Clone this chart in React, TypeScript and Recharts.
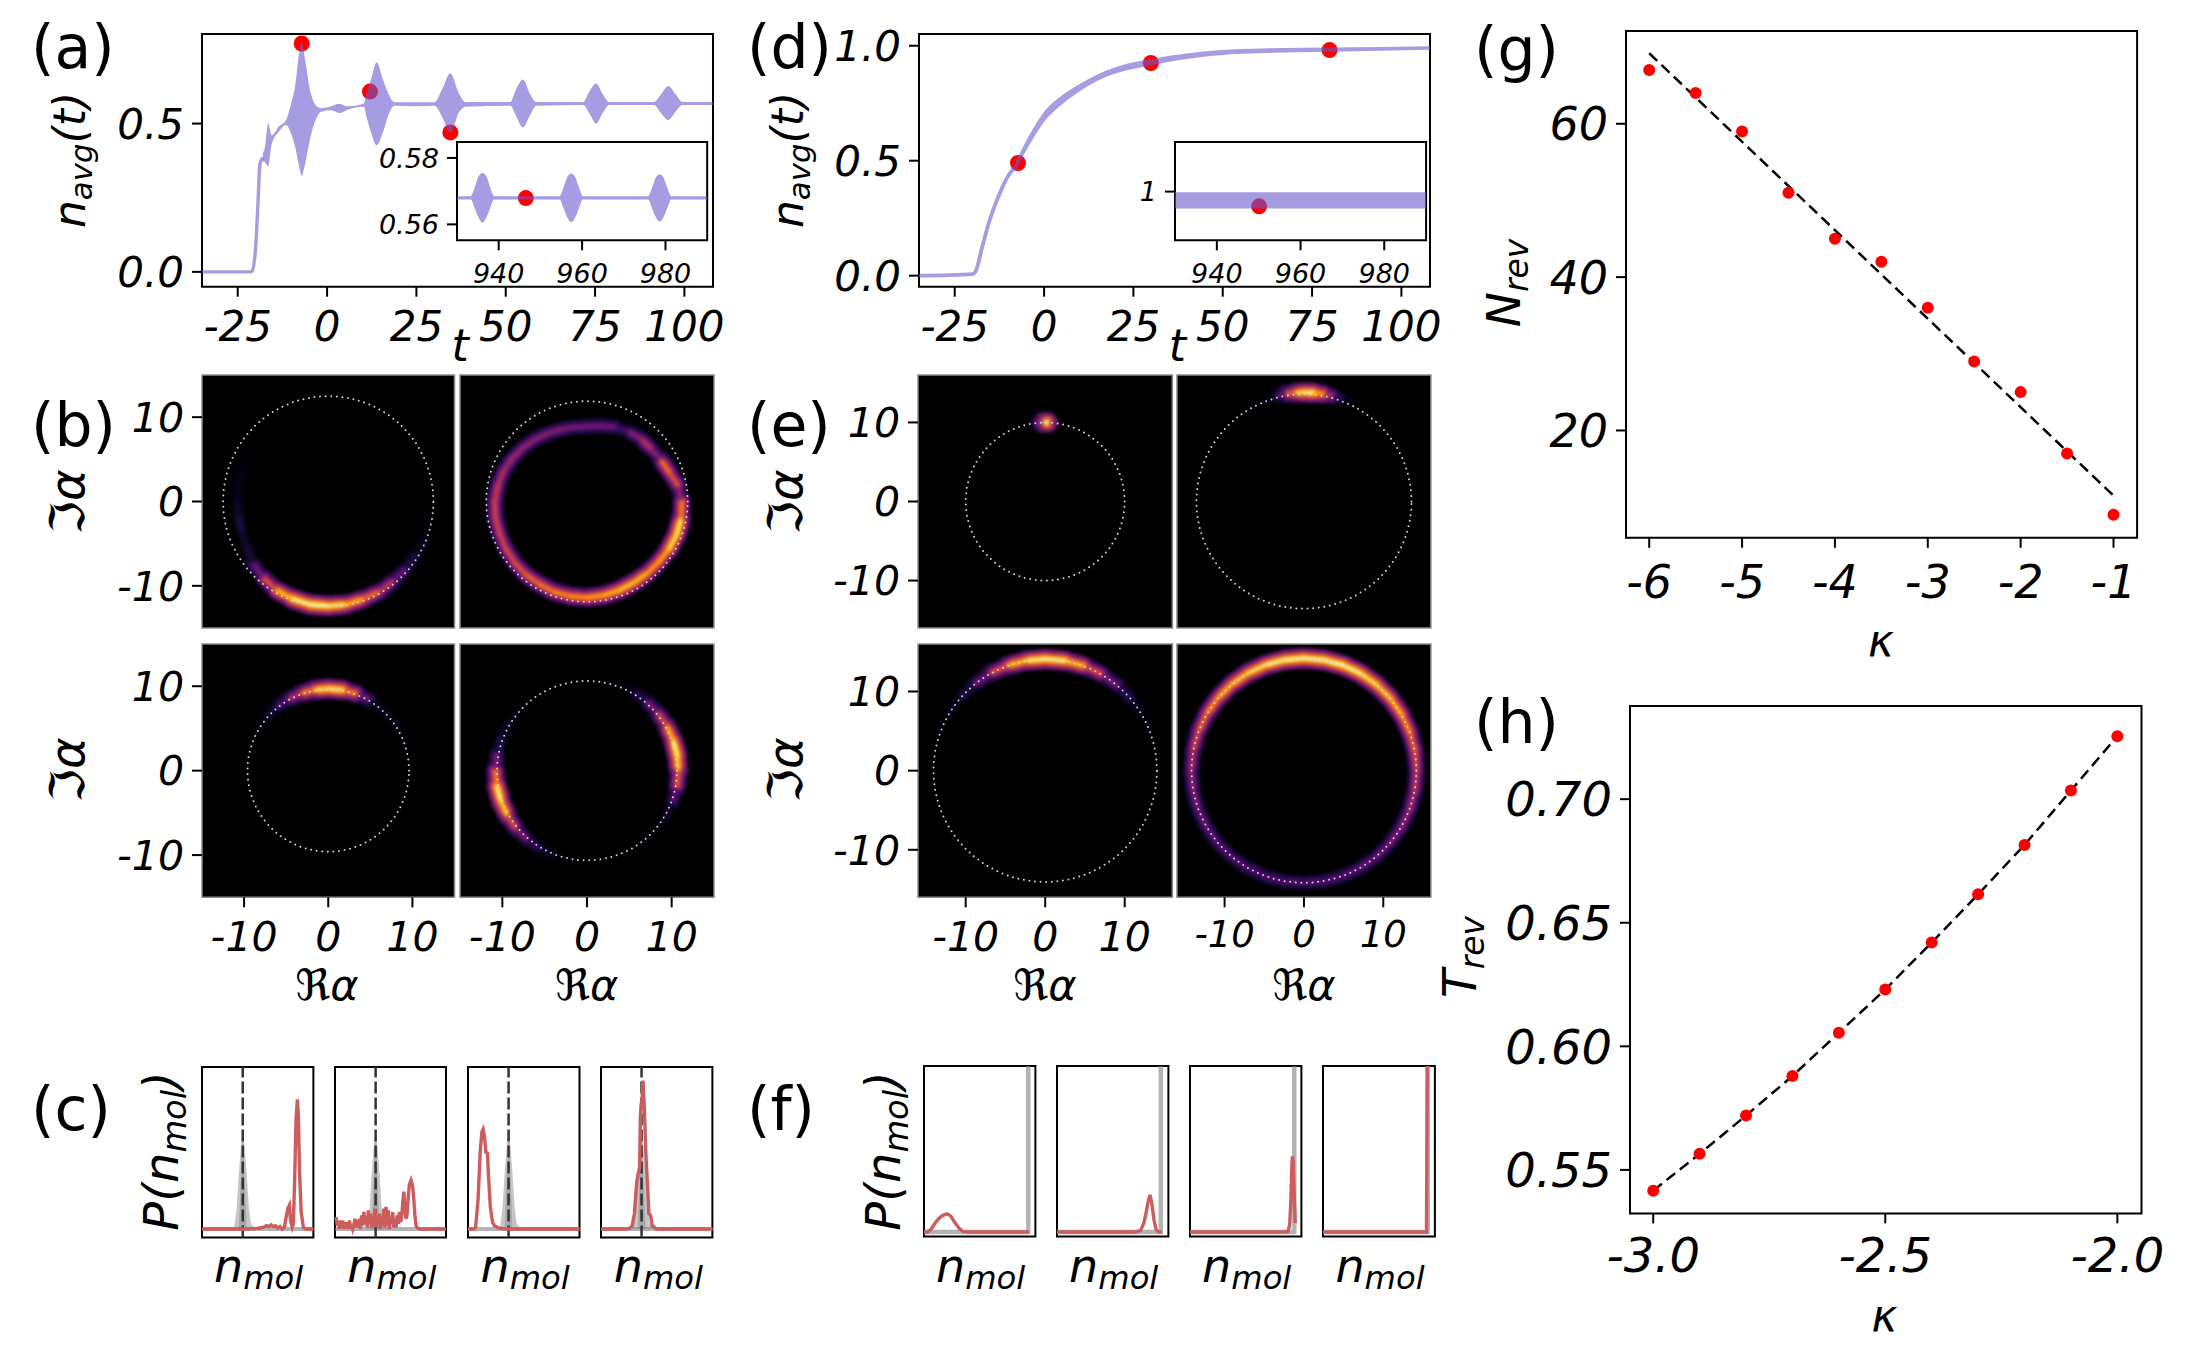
import React from "react";
import { ComposedChart, Area, Line, Scatter, XAxis, YAxis, ReferenceArea } from "recharts";

const FONT = '"DejaVu Sans", sans-serif';
const BAND = "#6a5acd";
const RED_CURVE = "#cd5c5c";

// (a) mean photon number
const aRiseT = [-35, -22, -21, -20, -19.4, -18.8, -18];
const aRiseN = [0, 0, 0.002, 0.08, 0.215, 0.362, 0.385];
const aTimes = [-18, -17.4, -16.5, -15.5, -13.5, -11.5, -10.2, -8.9, -7.9, -7.1, -6.2, -4.9, -3.6, -2.5, -1.6, 1.1, 3.4, 5.7, 10.3, 11, 12.3, 13.9, 15.6, 17.2, 18.9, 24.2, 30.1, 32.1, 34.5, 37, 38.7, 51.3, 52.8, 54.8, 56.8, 58.5, 71.7, 73.4, 75.3, 77.1, 79, 91.5, 93.5, 95.5, 97.5, 99.5, 108];
const aLow = [0.375, 0.37, 0.355, 0.43, 0.472, 0.495, 0.47, 0.42, 0.36, 0.324, 0.36, 0.44, 0.5, 0.53, 0.54, 0.545, 0.536, 0.547, 0.557, 0.525, 0.47, 0.427, 0.47, 0.53, 0.56, 0.558, 0.56, 0.525, 0.47, 0.54, 0.557, 0.56, 0.528, 0.487, 0.528, 0.56, 0.563, 0.535, 0.5, 0.535, 0.563, 0.563, 0.535, 0.512, 0.54, 0.563, 0.563];
const aHigh = [0.4, 0.42, 0.5, 0.46, 0.49, 0.512, 0.56, 0.63, 0.73, 0.776, 0.72, 0.62, 0.57, 0.555, 0.552, 0.558, 0.567, 0.558, 0.568, 0.6, 0.65, 0.707, 0.65, 0.6, 0.572, 0.572, 0.572, 0.613, 0.67, 0.6, 0.573, 0.573, 0.613, 0.649, 0.6, 0.573, 0.573, 0.608, 0.635, 0.6, 0.573, 0.573, 0.6, 0.627, 0.6, 0.573, 0.573];
const aDotT = [-7.1, 12, 34.5];
const aDotN = [0.77, 0.608, 0.47];

const aInsetTimes = [930, 933.3, 934.3, 935.1, 936.1, 937.1, 937.9, 938.9, 954.6, 955.6, 956.4, 957.4, 958.4, 959.2, 960.2, 975.8, 976.8, 977.6, 978.6, 979.6, 980.4, 981.4, 990];
const aInsetLow = [0.5675, 0.5675, 0.5647, 0.5622, 0.5605, 0.5622, 0.5647, 0.5675, 0.5675, 0.5647, 0.5622, 0.5606, 0.5622, 0.5647, 0.5675, 0.5675, 0.5648, 0.5624, 0.5608, 0.5624, 0.5648, 0.5675, 0.5675];
const aInsetHigh = [0.5685, 0.5685, 0.5713, 0.5743, 0.5755, 0.5743, 0.5713, 0.5685, 0.5685, 0.5713, 0.5741, 0.5753, 0.5741, 0.5713, 0.5685, 0.5685, 0.5711, 0.5739, 0.5751, 0.5739, 0.5711, 0.5685, 0.5685];
const aInsetDotT = [946.5];
const aInsetDotN = [0.5679];

// (d) mean photon number
const dRiseT = [-35, -20, -19.2, -17.4, -15.5, -12.8, -10.2, -8];
const dRiseN = [0, 0.007, 0.017, 0.119, 0.228, 0.343, 0.43, 0.475];
const dTimes = [-8, -3.6, 0.4, 4.4, 9.6, 15, 20.2, 29.9, 38.7, 49.3, 61.2, 79.9, 108];
const dLow = [0.455, 0.582, 0.677, 0.737, 0.798, 0.848, 0.88, 0.914, 0.94, 0.959, 0.968, 0.974, 0.982];
const dHigh = [0.495, 0.626, 0.721, 0.777, 0.83, 0.876, 0.908, 0.942, 0.964, 0.981, 0.988, 0.992, 0.998];
const dDotT = [-7.3, 29.9, 79.9];
const dDotN = [0.49, 0.925, 0.981];
const dInsetTimes = [930, 990];
const dInsetLow = [0.983, 0.983];
const dInsetHigh = [0.9993, 0.9993];
const dInsetDotT = [950.1];
const dInsetDotN = [0.9853];

// (b) and (e) Husimi rings, angle in degrees, glow from 0 to 1
const fullTurn = [0, 10, 20, 30, 40, 50, 60, 70, 80, 90, 100, 110, 120, 130, 140, 150, 160, 170, 180, 190, 200, 210, 220, 230, 240, 250, 260, 270, 280, 290, 300, 310, 320, 330, 340, 350, 360];
const b1Glow = [0, 0, 0, 0, 0, 0, 0, 0, 0, 0, 0, 0, 0, 0, 0, 0, 0.02, 0.05, 0.03, 0.12, 0.12, 0.03, 0.2, 0.45, 0.75, 0.95, 1, 1, 0.9, 0.75, 0.6, 0.4, 0.2, 0.08, 0.02, 0, 0];
const b1Radius = [12, 12, 12, 12, 12, 12, 12, 12, 12, 12, 12, 12, 12, 12, 11, 11, 10.8, 10.8, 10.8, 10.8, 10.9, 11.1, 11.6, 11.9, 12.2, 12.3, 12.4, 12.4, 12.4, 12.3, 12.3, 12.2, 12.2, 12.2, 12.2, 12, 12];
const b2Glow = [0.55, 0.25, 0.95, 0.4, 0.35, 0.62, 0.1, 0.32, 0.33, 0.33, 0.33, 0.35, 0.37, 0.38, 0.4, 0.42, 0.45, 0.5, 0.55, 0.55, 0.55, 0.55, 0.58, 0.62, 0.68, 0.72, 0.75, 0.78, 0.8, 0.85, 0.88, 0.8, 0.75, 0.85, 1, 0.9, 0.55];
const b2Radius = [11.2, 10.9, 10.3, 10, 9.8, 9.8, 9.6, 9.4, 9.1, 8.9, 8.95, 9.1, 9.3, 9.6, 9.9, 10.2, 10.5, 10.7, 10.9, 11, 11, 11.1, 11.2, 11.3, 11.3, 11.4, 11.4, 11.4, 11.3, 11.2, 11.1, 11.1, 11.1, 11.2, 11.3, 11.3, 11.2];
const b3Glow = [0, 0, 0.01, 0.02, 0.05, 0.05, 0.1, 0.55, 0.9, 1, 0.85, 0.6, 0.35, 0.15, 0.05, 0, 0, 0, 0, 0, 0, 0, 0, 0, 0, 0, 0, 0, 0, 0, 0, 0, 0, 0, 0, 0, 0];
const b4Glow = [0.8, 1, 0.95, 0.7, 0.45, 0.25, 0.05, 0, 0, 0, 0, 0, 0, 0, 0.02, 0.05, 0.1, 0.2, 0.5, 0.95, 1, 0.75, 0.45, 0.25, 0.1, 0.03, 0, 0, 0, 0, 0, 0, 0.02, 0.05, 0.1, 0.45, 0.8];
const e1Turn = [86, 88, 90, 92, 94];
const e1Glow = [0, 0.95, 1, 0.95, 0];
const e2Turn = [65, 70, 75, 80, 85, 90, 95, 100, 105, 110, 115];
const e2Glow = [0, 0.05, 0.3, 0.65, 0.95, 1, 0.85, 0.45, 0.12, 0.02, 0];
const e3Glow = [0, 0, 0, 0.02, 0.1, 0.25, 0.45, 0.75, 0.95, 1, 0.95, 0.75, 0.45, 0.2, 0.08, 0.02, 0, 0, 0, 0, 0, 0, 0, 0, 0, 0, 0, 0, 0, 0, 0, 0, 0, 0, 0, 0, 0];
const e4Glow = [0.55, 0.62, 0.7, 0.8, 0.85, 0.9, 0.95, 1, 1, 1, 1, 0.95, 0.9, 0.85, 0.8, 0.7, 0.62, 0.5, 0.42, 0.37, 0.33, 0.3, 0.28, 0.26, 0.25, 0.25, 0.25, 0.25, 0.25, 0.26, 0.28, 0.3, 0.33, 0.38, 0.42, 0.48, 0.55];

// (c) and (f) distributions, both axes in percent of the panel
const grayX = [27, 29, 31, 33, 35, 36.5, 38, 40, 42, 44, 48];
const grayY = [5, 7, 17, 38, 55, 62, 55, 38, 17, 8, 5];
const grayInnerX = [33, 34.5, 36.5, 38.5, 40];
const grayInnerY = [5, 30, 62, 30, 5];
const c1X = [0, 25, 38, 45, 50, 55, 58, 60, 62, 64, 66, 68, 70, 72, 74, 75, 77, 78.5, 79.5, 81, 82, 83, 84.5, 85.6, 86.5, 87.5, 89, 91, 93, 100];
const c1Y = [5, 5, 5, 5.2, 5.5, 6, 7, 6.5, 7.5, 6.5, 7, 5.5, 6.5, 5, 6, 10, 17, 19, 10, 6, 8, 30, 70, 81, 72, 40, 15, 6, 5, 5];
const c2X = [1, 2, 3, 4, 5, 6, 7, 8, 9, 10, 11, 12, 13, 14, 15, 16, 17, 18, 19, 20, 21, 22, 23, 24, 25, 26, 27, 28, 29, 30, 31, 32, 33, 34, 35, 36, 37, 38, 39, 40, 41, 42, 43, 44, 45, 46, 47, 48, 49, 50, 51, 52, 53, 54, 55, 56, 57, 58, 59, 60, 61, 62, 63, 64, 65, 66, 67, 68.5, 70, 71, 72, 73, 74.5, 77, 100];
const c2Y = [12, 7, 10, 5, 10, 6, 10, 5, 9, 5, 9, 5, 10, 5, 8, 5, 7, 11, 6, 10, 6, 11, 5, 13, 7, 15, 8, 12, 6, 16, 8, 14, 6, 12, 7, 17, 6, 11, 8, 14, 5, 12, 7, 17, 6, 18, 7, 16, 5, 12, 8, 15, 6, 10, 6, 13, 8, 15, 9, 12, 20, 27, 16, 11, 14, 24, 31, 33.6, 30, 22, 13, 7, 5.5, 5, 5];
const c3X = [0, 5, 6.8, 9, 11, 12.5, 13.6, 15, 16, 17.4, 18.5, 20, 22, 23.7, 28, 35, 45, 100];
const c3Y = [5, 5, 6, 22, 51, 62, 63.5, 58, 50, 49.5, 35, 18, 9, 7, 5.5, 5, 5, 5];
const c4X = [0, 22, 26, 28, 30, 32, 33.5, 34.7, 35.3, 36, 37, 37.7, 38.6, 39.4, 40.2, 41.5, 43, 44.5, 46, 50, 100];
const c4Y = [5, 5, 5.5, 7, 14, 32, 38, 41, 70, 78, 82, 92, 80, 67, 50, 34, 14, 13, 7, 5, 5];
const f1X = [0, 3, 6, 10, 14, 17, 20.8, 24, 28, 32, 35, 40, 94.5];
const f1Y = [2.7, 2.7, 4, 8, 11, 12.5, 13.3, 12, 8, 4.5, 3, 2.7, 2.7];
const f2X = [0, 70, 75, 78, 80, 82, 83.5, 85, 87, 89, 90.5, 94];
const f2Y = [2.7, 2.7, 3.5, 8, 14, 21, 24.4, 20, 10, 4, 3, 2.7];
const f3X = [0, 86, 88, 89.5, 90.5, 91.5, 92, 92.5, 93.5, 94.5];
const f3Y = [2.7, 2.7, 3, 7, 20, 42, 47, 44, 25, 8];
const f4X = [0, 92.5, 93.2];
const f4Y = [2.7, 2.7, 100];

// (g) and (h)
const gKappa = [-6, -5.5, -5, -4.5, -4, -3.5, -3, -2.5, -2, -1.5, -1];
const gRevivals = [67, 64, 59, 51, 45, 42, 36, 29, 25, 17, 9];
const gFitKappa = [-6, -1];
const gFitRevivals = [69.2, 11.5];
const hKappa = [-3, -2.9, -2.8, -2.7, -2.6, -2.5, -2.4, -2.3, -2.2, -2.1, -2];
const hPeriod = [0.5416, 0.5565, 0.572, 0.588, 0.6055, 0.623, 0.642, 0.6615, 0.6815, 0.7035, 0.7255];

const rows = (xs: number[], ys: number[]) => xs.map((x, i) => ({ x, y: ys[i] }));
const bands = (xs: number[], lo: number[], hi: number[]) => xs.map((x, i) => ({ x, band: [lo[i], hi[i]] }));

const INFERNO = ["#000004", "#160b39", "#420a68", "#6a176e", "#932667", "#bc3754", "#dd513a", "#f37819", "#fca50a", "#f6d746", "#fcffa4"];
function inferno(v: number) {
  const p = Math.min(Math.max(v, 0), 1) * 10;
  const i = Math.min(Math.floor(p), 9);
  const t = p - i;
  const a = parseInt(INFERNO[i].slice(1), 16);
  const b = parseInt(INFERNO[i + 1].slice(1), 16);
  const mix = (s: number) => Math.round(((a >> s) & 255) * (1 - t) + ((b >> s) & 255) * t);
  return `rgb(${mix(16)},${mix(8)},${mix(0)})`;
}

const tickLabel = (size: number, dy: number, anchor: string, decimals: number) => (p: any) => (
  <text x={anchor === "end" ? p.x - 8 : p.x} y={p.y + dy} textAnchor={anchor} fontSize={size} fontStyle="italic" fontFamily={FONT} fill="#000">
    {Number(p.payload.value).toFixed(decimals)}
  </text>
);

const PAD = { l: 140, r: 60, t: 20, b: 75 };

function Plot({ box, xDomain, yDomain, xTicks, yTicks, xText, yText, fill, border = "#000", borderWidth = 2, data, children }: any) {
  const [x, y, w, h] = box;
  return (
    <div style={{ position: "absolute", left: x - PAD.l, top: y - PAD.t }}>
      <ComposedChart width={w + PAD.l + PAD.r} height={h + PAD.t + PAD.b} data={data} margin={{ top: PAD.t, right: PAD.r, left: 0, bottom: 0 }}>
        <XAxis
          dataKey="x"
          type="number"
          domain={xDomain}
          ticks={xTicks}
          interval={0}
          height={PAD.b}
          tickSize={10}
          tickMargin={0}
          axisLine={false}
          tickLine={xTicks ? { stroke: "#000", strokeWidth: 2 } : false}
          tick={xText ? tickLabel(xText[0], xText[1], "middle", xText[2]) : false}
        />
        <YAxis
          dataKey="y"
          type="number"
          domain={yDomain}
          ticks={yTicks}
          interval={0}
          width={PAD.l}
          tickSize={10}
          tickMargin={0}
          axisLine={false}
          tickLine={yTicks ? { stroke: "#000", strokeWidth: 2 } : false}
          tick={yText ? tickLabel(yText[0], 0.36 * yText[0], "end", yText[1]) : false}
        />
        <ReferenceArea x1={xDomain[0]} x2={xDomain[1]} y1={yDomain[0]} y2={yDomain[1]} fill={fill || "none"} fillOpacity={1} stroke={border} strokeWidth={borderWidth} />
        {children}
      </ComposedChart>
    </div>
  );
}

const redDot = (r: number) => (p: any) => <circle cx={p.cx} cy={p.cy} r={r} fill="#ff0000" />;

const LAYERS = [
  { level: 0.28, width: 21 },
  { level: 0.48, width: 15 },
  { level: 0.7, width: 10 },
  { level: 0.87, width: 5.5 },
  { level: 1, width: 2.6 },
];

const segment = (level: number, width: number) => (p: any) => {
  const next = p.points?.[p.index + 1];
  if (!next) return <g key={p.index} />;
  const v = (p.payload.v + next.payload.v) / 2;
  if (v < 0.01) return <g key={p.index} />;
  return (
    <line
      key={p.index}
      x1={p.cx}
      y1={p.cy}
      x2={next.x}
      y2={next.y}
      stroke={inferno(v * level)}
      strokeWidth={width * (0.6 + 0.4 * v)}
      strokeLinecap="round"
    />
  );
};

const GUIDE_TURN = Array.from({ length: 73 }, (_, i) => i * 5);

function Ring({ box, limit, guide, turn = fullTurn, glow, radius, xTicks, yTicks, xText, yText }: any) {
  const [x, y, w, h] = box;
  const domain = [-limit, limit];
  const ringRows = turn.map((deg: number, i: number) => {
    const r = Array.isArray(radius) ? radius[i] : radius;
    const a = (deg * Math.PI) / 180;
    return { x: r * Math.cos(a), y: r * Math.sin(a), v: glow[i] };
  });
  const guideRows = GUIDE_TURN.map((deg) => {
    const a = (deg * Math.PI) / 180;
    return { x: guide * Math.cos(a), y: guide * Math.sin(a) };
  });
  return (
    <>
      <div style={{ position: "absolute", left: x, top: y, width: w, height: h, overflow: "hidden", background: "#000" }}>
        <div style={{ filter: "blur(1.5px)" }}>
          <ComposedChart width={w} height={h} margin={{ top: 0, right: 0, left: 0, bottom: 0 }}>
            <XAxis hide dataKey="x" type="number" domain={domain} />
            <YAxis hide dataKey="y" type="number" domain={domain} />
            {LAYERS.map((l) => (
              <Line key={l.level} data={ringRows} dataKey="y" stroke="none" dot={segment(l.level, l.width)} isAnimationActive={false} />
            ))}
          </ComposedChart>
        </div>
      </div>
      <Plot box={box} xDomain={domain} yDomain={domain} xTicks={xTicks} yTicks={yTicks} xText={xText} yText={yText} border="#8a8a8a" borderWidth={1.5}>
        <Line data={guideRows} dataKey="y" stroke="#d0d0d0" strokeWidth={2} strokeDasharray="0 5.6" strokeLinecap="round" dot={false} isAnimationActive={false} />
      </Plot>
    </>
  );
}

function Density({ box, red, gray, dash }: any) {
  return (
    <Plot box={box} xDomain={[0, 100]} yDomain={[0, 100]}>
      {dash !== undefined && <Area data={rows(grayX.map((v) => v + dash - 36.5), grayY)} dataKey="y" baseValue={5} type="linear" fill="#808080" fillOpacity={0.45} stroke="none" isAnimationActive={false} />}
      {dash !== undefined && <Area data={rows(grayInnerX.map((v) => v + dash - 36.5), grayInnerY)} dataKey="y" baseValue={5} type="linear" fill="#808080" fillOpacity={0.45} stroke="none" isAnimationActive={false} />}
      {gray && <Line data={gray} dataKey="y" stroke="#808080" strokeOpacity={0.6} strokeWidth={4.5} dot={false} isAnimationActive={false} />}
      {dash !== undefined && <Line data={rows([0, 100], [5, 5])} dataKey="y" stroke="#808080" strokeOpacity={0.6} strokeWidth={4} dot={false} isAnimationActive={false} />}
      {dash !== undefined && <Line data={rows([dash, dash], [0, 100])} dataKey="y" stroke="#333" strokeWidth={2.5} strokeDasharray="12 4" dot={false} isAnimationActive={false} />}
      <Line data={red} dataKey="y" stroke={RED_CURVE} strokeWidth={3.4} dot={false} isAnimationActive={false} />
    </Plot>
  );
}

function Math2({ x, y, rotate, main, sub, tail, size = 44, anchor = "middle", italic = true }: any) {
  const transform = rotate ? `translate(${x},${y}) rotate(-90)` : `translate(${x},${y})`;
  const drop = size * 0.16;
  return (
    <text transform={transform} textAnchor={anchor} fontFamily={FONT} fontStyle={italic ? "italic" : "normal"} fontSize={size} fill="#000">
      {main}
      {sub && <tspan fontSize={size * 0.7} dy={drop}>{sub}</tspan>}
      {tail && <tspan dy={-drop}>{tail}</tspan>}
    </text>
  );
}

const PANEL_TAGS = [
  ["(a)", 31, 68],
  ["(b)", 31, 446],
  ["(c)", 31, 1130],
  ["(d)", 747, 68],
  ["(e)", 747, 446],
  ["(f)", 747, 1130],
  ["(g)", 1474, 70],
  ["(h)", 1474, 743],
];

const C_BOXES = [[201.5, 1066.7, 111.4, 170.6], [335, 1066.7, 111, 170.6], [468, 1066.7, 111.5, 170.6], [601.2, 1066.7, 111.4, 170.6]];
const F_BOXES = [[923.5, 1065.7, 111.4, 170.6], [1056.6, 1065.7, 111.4, 170.6], [1189.6, 1065.7, 111.4, 170.6], [1322.7, 1065.7, 111.9, 170.6]];

export default function App() {
  return (
    <div style={{ position: "absolute", left: 0, top: 0, width: 2200, height: 1356, background: "#fff", overflow: "hidden" }}>
      {/* (a) */}
      <Plot box={[201.5, 34, 511, 252.7]} xDomain={[-35, 108]} yDomain={[-0.05, 0.802]} xTicks={[-25, 0, 25, 50, 75, 100]} yTicks={[0, 0.5]} xText={[42, 44, 0]} yText={[42, 1]} data={bands(aTimes, aLow, aHigh)}>
        <Scatter data={rows(aDotT, aDotN)} shape={redDot(8)} isAnimationActive={false} zIndex={50} />
        <Line data={rows(aRiseT, aRiseN)} dataKey="y" type="monotone" stroke={BAND} strokeOpacity={0.6} strokeWidth={3.4} dot={false} isAnimationActive={false} zIndex={100} />
        <Area dataKey="band" type="monotone" fill={BAND} fillOpacity={0.6} stroke="none" isAnimationActive={false} zIndex={100} />
      </Plot>
      <Plot box={[456.8, 141.7, 250.2, 98.3]} xDomain={[930, 990]} yDomain={[0.5552, 0.5848]} xTicks={[940, 960, 980]} yTicks={[0.56, 0.58]} xText={[27, 33, 0]} yText={[27, 2]} fill="#fff" data={bands(aInsetTimes, aInsetLow, aInsetHigh)}>
        <Scatter data={rows(aInsetDotT, aInsetDotN)} shape={redDot(8)} isAnimationActive={false} zIndex={150} />
        <Area dataKey="band" type="monotone" fill={BAND} fillOpacity={0.6} stroke="none" isAnimationActive={false} zIndex={200} />
      </Plot>

      {/* (d) */}
      <Plot box={[919.2, 34, 511, 252.7]} xDomain={[-35, 108]} yDomain={[-0.048, 1.051]} xTicks={[-25, 0, 25, 50, 75, 100]} yTicks={[0, 0.5, 1]} xText={[42, 44, 0]} yText={[42, 1]} data={bands(dTimes, dLow, dHigh)}>
        <Scatter data={rows(dDotT, dDotN)} shape={redDot(8)} isAnimationActive={false} zIndex={50} />
        <Line data={rows(dRiseT, dRiseN)} dataKey="y" type="monotone" stroke={BAND} strokeOpacity={0.6} strokeWidth={3.8} dot={false} isAnimationActive={false} zIndex={100} />
        <Area dataKey="band" type="monotone" fill={BAND} fillOpacity={0.6} stroke="none" isAnimationActive={false} zIndex={100} />
      </Plot>
      <Plot box={[1174.5, 141.7, 251.1, 98.3]} xDomain={[930, 990]} yDomain={[0.9513, 1.0496]} xTicks={[940, 960, 980]} yTicks={[1]} xText={[27, 33, 0]} yText={[27, 0]} fill="#fff" data={bands(dInsetTimes, dInsetLow, dInsetHigh)}>
        <Scatter data={rows(dInsetDotT, dInsetDotN)} shape={redDot(8)} isAnimationActive={false} zIndex={150} />
        <Area dataKey="band" type="monotone" fill={BAND} fillOpacity={0.6} stroke="none" isAnimationActive={false} zIndex={200} />
      </Plot>

      {/* (b) */}
      <Ring box={[201.5, 374.7, 252.5, 253]} limit={15} guide={12.5} glow={b1Glow} radius={b1Radius} yTicks={[-10, 0, 10]} yText={[41, 0]} />
      <Ring box={[459.6, 374.7, 254, 253]} limit={15} guide={11.9} glow={b2Glow} radius={b2Radius} />
      <Ring box={[201.5, 643.7, 252.5, 253.3]} limit={15} guide={9.6} glow={b3Glow} radius={9.7} xTicks={[-10, 0, 10]} yTicks={[-10, 0, 10]} xText={[41, 44, 0]} yText={[41, 0]} />
      <Ring box={[459.6, 643.7, 254, 253.3]} limit={15} guide={10.63} glow={b4Glow} radius={10.8} xTicks={[-10, 0, 10]} xText={[41, 44, 0]} />

      {/* (e) */}
      <Ring box={[918.3, 374.7, 254.4, 253]} limit={16} guide={10} turn={e1Turn} glow={e1Glow} radius={10} yTicks={[-10, 0, 10]} yText={[41, 0]} />
      <Ring box={[1177.4, 374.7, 253.9, 253]} limit={16} guide={13.56} turn={e2Turn} glow={e2Glow} radius={13.8} />
      <Ring box={[918.3, 643.7, 254.4, 253.3]} limit={16} guide={14.06} glow={e3Glow} radius={14.1} xTicks={[-10, 0, 10]} yTicks={[-10, 0, 10]} xText={[41, 44, 0]} yText={[41, 0]} />
      <Ring box={[1177.4, 643.7, 253.9, 253.3]} limit={16} guide={14.17} glow={e4Glow} radius={14.2} xTicks={[-10, 0, 10]} xText={[37, 40, 0]} />

      {/* (c) */}
      <Density box={C_BOXES[0]} dash={36.6} red={rows(c1X, c1Y)} />
      <Density box={C_BOXES[1]} dash={36.6} red={rows(c2X, c2Y)} />
      <Density box={C_BOXES[2]} dash={36.4} red={rows(c3X, c3Y)} />
      <Density box={C_BOXES[3]} dash={36.4} red={rows(c4X, c4Y)} />

      {/* (f) */}
      <Density box={F_BOXES[0]} gray={rows([0, 93.6, 93.6], [2.7, 2.7, 100])} red={rows(f1X, f1Y)} />
      <Density box={F_BOXES[1]} gray={rows([0, 93.2, 93.2], [2.7, 2.7, 100])} red={rows(f2X, f2Y)} />
      <Density box={F_BOXES[2]} gray={rows([0, 93.6, 93.6], [2.7, 2.7, 100])} red={rows(f3X, f3Y)} />
      <Density box={F_BOXES[3]} gray={rows([0, 93.6, 93.6], [2.7, 2.7, 100])} red={rows(f4X, f4Y)} />

      {/* (g) */}
      <Plot box={[1626.1, 31.2, 511.1, 506.8]} xDomain={[-6.25, -0.746]} yDomain={[6, 72.1]} xTicks={[-6, -5, -4, -3, -2, -1]} yTicks={[20, 40, 60]} xText={[46, 50, 0]} yText={[46, 0]}>
        <Scatter data={rows(gKappa, gRevivals)} shape={redDot(6)} isAnimationActive={false} />
        <Line data={rows(gFitKappa, gFitRevivals)} dataKey="y" stroke="#000" strokeWidth={2.5} strokeDasharray="11 6" dot={false} isAnimationActive={false} />
      </Plot>

      {/* (h) */}
      <Plot box={[1629.5, 706.3, 511.5, 507.4]} xDomain={[-3.05, -1.948]} yDomain={[0.5324, 0.7377]} xTicks={[-3, -2.5, -2]} yTicks={[0.55, 0.6, 0.65, 0.7]} xText={[48, 49, 1]} yText={[48, 2]}>
        <Scatter data={rows(hKappa, hPeriod)} shape={redDot(6)} isAnimationActive={false} />
        <Line data={rows(hKappa, hPeriod)} dataKey="y" stroke="#000" strokeWidth={2.5} strokeDasharray="11 6" dot={false} isAnimationActive={false} />
      </Plot>

      {/* text */}
      <svg width={2200} height={1356} style={{ position: "absolute", left: 0, top: 0, pointerEvents: "none" }}>
        {PANEL_TAGS.map(([tag, x, y]) => (
          <text key={tag as string} x={x as number} y={y as number} fontFamily={FONT} fontSize={60} fill="#000">{tag}</text>
        ))}
        <Math2 x={85} y={160} rotate main="n" sub="avg" tail="(t)" />
        <Math2 x={803} y={160} rotate main="n" sub="avg" tail="(t)" />
        <Math2 x={460} y={361} main="t" />
        <Math2 x={1177.4} y={361} main="t" />
        {[502, 770].map((y) => (
          <g key={y}>
            <Math2 x={84} y={y} rotate main="ℑα" size={48} />
            <Math2 x={802} y={y} rotate main="ℑα" size={48} />
          </g>
        ))}
        {[327, 586.6, 1045, 1304].map((x) => (
          <Math2 key={x} x={x} y={1000} main="ℜα" size={43} />
        ))}
        <Math2 x={178} y={1151} rotate main="P(n" sub="mol" tail=")" size={48} />
        <Math2 x={900} y={1151} rotate main="P(n" sub="mol" tail=")" size={48} />
        {[258.6, 391.9, 525.1, 658.3, 980.6, 1113.7, 1246.7, 1380].map((x) => (
          <Math2 key={x} x={x} y={1281.7} main="n" sub="mol" size={46} />
        ))}
        <Math2 x={1520} y={283} rotate main="N" sub="rev" size={47} />
        <Math2 x={1476} y={957} rotate main="T" sub="rev" size={47} />
        <Math2 x={1881} y={656} main="κ" size={44} />
        <Math2 x={1884.5} y={1331} main="κ" size={44} />
      </svg>
    </div>
  );
}
